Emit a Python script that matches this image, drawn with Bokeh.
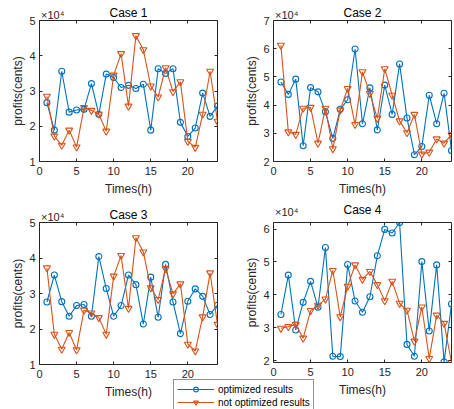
from bokeh.plotting import figure
from bokeh.models import (Range1d, FixedTicker, CustomJSTickFormatter, LinearAxis,
                          Label, Legend, LegendItem, ColumnDataSource)
from bokeh.layouts import row, column
from bokeh.embed import file_html
from bokeh.resources import INLINE

hours = list(range(1, 25))
x_ticks = [0, 5, 10, 15, 20]

case1_opt = [26700, 18900, 35600, 24000, 24600, 24800, 32100, 23400, 34800, 33800, 31000, 31600,
             30700, 31900, 18900, 36300, 35000, 36300, 21100, 17100, 19500, 29400, 22800, 25700]
case1_not = [28500, 17200, 14600, 18900, 14100, 25300, 24500, 23400, 18600, 34500, 40600, 25700,
             45700, 41700, 31400, 28300, 36600, 29800, 32600, 15700, 14000, 23400, 35600, 21400]

case2_opt = [48200, 43800, 49200, 25600, 46200, 44700, 37600, 28200, 38500, 41900, 59900, 33400,
             46100, 31200, 47100, 36700, 54600, 35400, 22400, 25300, 43500, 33400, 44200, 23900]
case2_not = [61200, 30500, 29600, 38900, 39200, 26500, 38900, 24500, 38200, 45900, 33100, 51800,
             44100, 35300, 52900, 43500, 34400, 30200, 36700, 22600, 23300, 28000, 26500, 29500]

case3_opt = [27600, 35200, 27700, 23600, 26600, 26900, 23600, 40400, 31400, 23600, 26600, 35200,
             32500, 21400, 34600, 23300, 38200, 27600, 18700, 27800, 31300, 29200, 24100, 26700]
case3_not = [37200, 18500, 14300, 19000, 14100, 25300, 24500, 23200, 18500, 34900, 40700, 25800,
             45700, 41700, 31600, 28300, 37000, 29900, 32700, 15700, 13800, 23400, 35800, 21300]

case4_opt = [34000, 46000, 29300, 37700, 44100, 36200, 54400, 21300, 21200, 49200, 38100, 34700,
             39400, 51900, 59900, 58800, 62000, 24900, 21300, 50100, 29000, 49100, 19600, 37200]
case4_not = [29800, 30300, 31000, 26800, 35200, 36800, 38700, 47400, 33300, 42600, 49100, 44700,
             47100, 43100, 38200, 44100, 37400, 35300, 25900, 36300, 20600, 33800, 31300, 19400]

titles = ["Case 1", "Case 2", "Case 3", "Case 4"]
series_labels = ["optimized results", "not optimized results"]
multiplier = "\u00d710\u2074"

BLUE = "#0072BD"
ORANGE = "#D95319"
AX = "#262626"
FONT = "Liberation Sans"
PAGE_W, PAGE_H = 454, 409
FW = 178


def panel(opt, notopt, yrange, yticks, bl, br, bt, bb, fh):
    p = figure(frame_width=FW, frame_height=fh,
               x_range=Range1d(0, 24), y_range=Range1d(*yrange),
               output_backend="svg", toolbar_location=None,
               min_border_left=bl, min_border_right=br,
               min_border_top=bt, min_border_bottom=bb)
    p.grid.visible = False
    p.outline_line_color = AX
    p.outline_line_width = 1
    p.background_fill_color = "white"
    p.border_fill_color = "white"

    src = ColumnDataSource(dict(t=hours, opt=opt, notopt=notopt))
    p.line("t", "opt", source=src, line_color=BLUE, line_width=1.1)
    p.scatter("t", "opt", source=src, marker="circle", size=6, line_color=BLUE,
              fill_color=None, line_width=1.1)
    p.line("t", "notopt", source=src, line_color=ORANGE, line_width=1.1)
    p.scatter("t", "notopt", source=src, marker="inverted_triangle", size=7,
              line_color=ORANGE, fill_color=None, line_width=1.1)

    xa = p.xaxis[0]
    xa.ticker = FixedTicker(ticks=x_ticks)
    xa.axis_label = "Times(h)"
    ya = p.yaxis[0]
    ya.ticker = FixedTicker(ticks=yticks)
    ya.formatter = CustomJSTickFormatter(code="return (tick/10000).toFixed(0);")
    ya.axis_label = "profits(cents)"
    for a in (xa, ya):
        a.axis_line_color = None
        a.major_tick_in = 3
        a.major_tick_out = 0
        a.minor_tick_line_color = None
        a.major_tick_line_color = AX
        a.major_label_text_font = FONT
        a.major_label_text_font_size = "11px"
        a.major_label_text_color = AX
        a.axis_label_text_font = FONT
        a.axis_label_text_font_size = "12px"
        a.axis_label_text_font_style = "normal"
        a.axis_label_text_color = AX
    xa.major_label_standoff = 5
    xa.axis_label_standoff = 4
    ya.major_label_standoff = 4
    ya.axis_label_standoff = 1

    # mirrored ticks (box on)
    blank = CustomJSTickFormatter(code="return '';")
    top = LinearAxis(ticker=FixedTicker(ticks=x_ticks), formatter=blank)
    right = LinearAxis(ticker=FixedTicker(ticks=yticks), formatter=blank)
    for a in (top, right):
        a.axis_line_color = None
        a.major_tick_in = 3
        a.major_tick_out = 0
        a.minor_tick_line_color = None
        a.major_tick_line_color = AX
        a.major_label_standoff = 0
        a.major_label_text_font_size = "1px"
    p.add_layout(top, "above")
    p.add_layout(right, "right")
    return p


y4 = (min(case4_opt + case4_not), max(case4_opt + case4_not))

COL_X = [0, 240]
BL = [39, 33]
BR = [23, 3]
ROW_Y = [0, 200]
specs = [
    (case1_opt, case1_not, (10000, 50000), [10000, 20000, 30000, 40000, 50000], 0, 0, 20, 141, 39),
    (case2_opt, case2_not, (20000, 70000), [20000, 30000, 40000, 50000, 60000, 70000], 1, 0, 20, 141, 39),
    (case3_opt, case3_not, (10000, 50000), [10000, 20000, 30000, 40000, 50000], 0, 1, 22, 142, 37),
    (case4_opt, case4_not, y4, [20000, 30000, 40000, 50000, 60000], 1, 1, 17, 140, 44),
]
figs = []
frame_pos = []
for opt, nopt, yr, yt, c, r, bt, fh, bb in specs:
    figs.append(panel(opt, nopt, yr, yt, BL[c], BR[c], bt, bb, fh))
    frame_pos.append((COL_X[c] + BL[c], ROW_Y[r] + bt))

grid_h = 200 + 201

# transparent overlay for titles and multipliers
ov = figure(width=PAGE_W, height=PAGE_H, x_range=Range1d(0, PAGE_W), y_range=Range1d(PAGE_H, 0),
            x_axis_type=None, y_axis_type=None, output_backend="svg",
            toolbar_location=None, min_border=0, margin=(-grid_h, 0, grid_h - PAGE_H, 0))
ov.grid.visible = False
ov.outline_line_color = None
ov.background_fill_alpha = 0
ov.border_fill_alpha = 0

for (fx, fy), t in zip(frame_pos, titles):
    ov.add_layout(Label(x=fx + FW / 2, y=fy - 8, text=t, text_align="center",
                        text_baseline="middle", text_font=FONT,
                        text_font_size="12px", text_color="black"))
    ov.add_layout(Label(x=fx + 1.5, y=fy - 5.5, text=multiplier, text_align="left",
                        text_baseline="middle", text_font=FONT,
                        text_font_size="11px", text_color=AX))

# legend panel, overlapping the bottom of the grid like the reference
LEG_TOP = 378
lf = figure(width=148, height=PAGE_H - LEG_TOP, x_range=Range1d(0, 1), y_range=Range1d(0, 1),
            x_axis_type=None, y_axis_type=None, output_backend="svg",
            toolbar_location=None, min_border=0,
            margin=(LEG_TOP - grid_h, 0, grid_h - PAGE_H, 172))
lf.grid.visible = False
lf.outline_line_color = None
lf.background_fill_alpha = 0
lf.border_fill_alpha = 0
lsrc = ColumnDataSource(dict(x=[-5, -4], y=[-5, -4]))
l1 = lf.line("x", "y", source=lsrc, line_color=BLUE, line_width=1.1)
m1 = lf.scatter("x", "y", source=lsrc, marker="circle", size=6, line_color=BLUE,
                fill_color=None, line_width=1.1)
l2 = lf.line("x", "y", source=lsrc, line_color=ORANGE, line_width=1.1)
m2 = lf.scatter("x", "y", source=lsrc, marker="inverted_triangle", size=7, line_color=ORANGE,
                fill_color=None, line_width=1.1)
leg = Legend(items=[LegendItem(label=series_labels[0], renderers=[l1, m1]),
                    LegendItem(label=series_labels[1], renderers=[l2, m2])],
             location="top_left", margin=1, padding=3, spacing=1,
             glyph_width=37, glyph_height=12, label_height=12, label_standoff=4,
             label_text_font=FONT, label_text_font_size="10px", label_text_color="black",
             border_line_color=AX, border_line_width=1,
             background_fill_color="white", background_fill_alpha=1)
lf.add_layout(leg)

p = column(row(figs[0], figs[1]), row(figs[2], figs[3]), ov, lf)

open("out.html", "w").write(file_html(p, INLINE))
